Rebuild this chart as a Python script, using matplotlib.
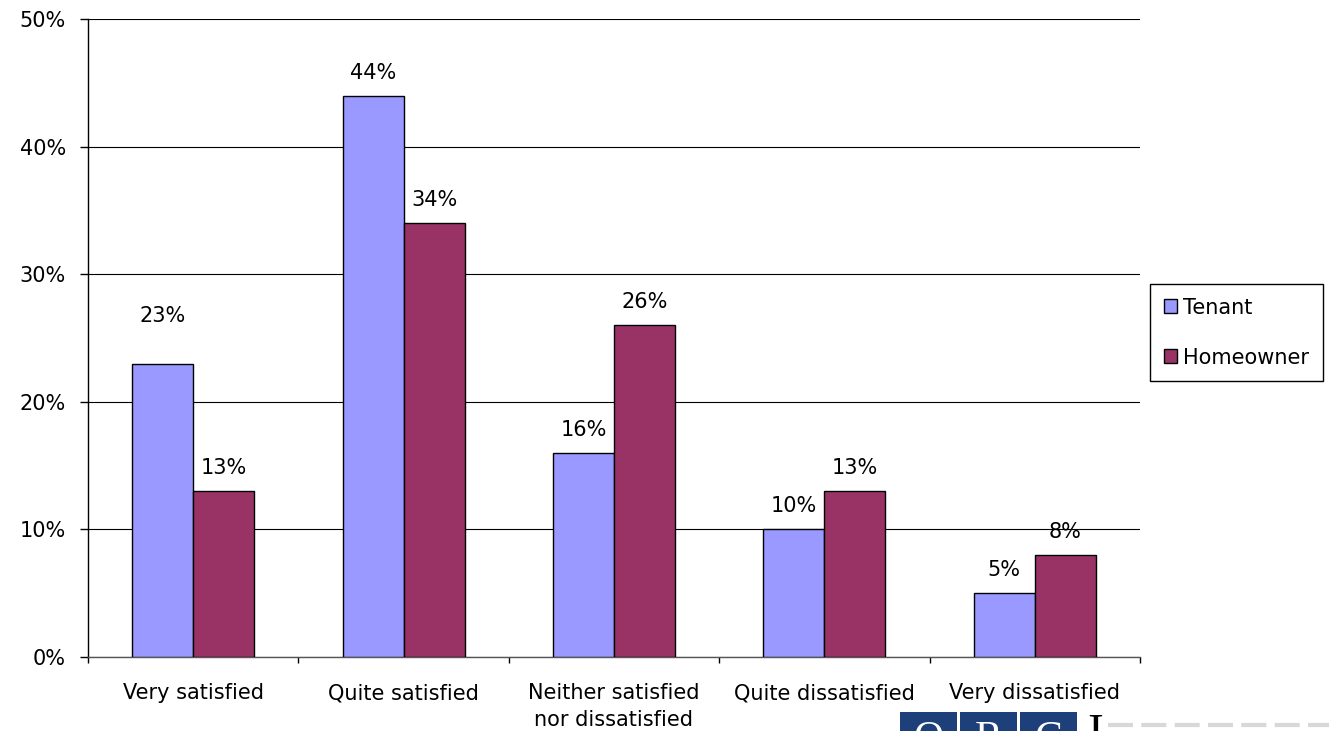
import matplotlib
matplotlib.use("Agg")
import matplotlib.pyplot as plt
import numpy as np
from matplotlib.patches import Rectangle
from matplotlib.ticker import FixedLocator, PercentFormatter
from matplotlib.lines import Line2D

plt.rcParams['font.family'] = ['DejaVu Sans']

categories = ["Very satisfied", "Quite satisfied", "Neither satisfied\nnor dissatisfied",
              "Quite dissatisfied", "Very dissatisfied"]
tenant = [23, 44, 16, 10, 5]
homeowner = [13, 34, 26, 13, 8]
series_names = ["Tenant", "Homeowner"]

tenant_color = "#9999FF"
home_color = "#993366"
FS = 15

W, H = 1329, 731
fig = plt.figure(figsize=(W / 100, H / 100), dpi=100)
ax = fig.add_axes([88 / W, 1 - 657 / H, (1140 - 88) / W, (657 - 19) / H])

x = np.arange(len(categories))
bw = 0.29
b1 = ax.bar(x - bw / 2, tenant, bw, color=tenant_color, edgecolor="black", linewidth=1.0, zorder=3)
b2 = ax.bar(x + bw / 2, homeowner, bw, color=home_color, edgecolor="black", linewidth=1.0, zorder=3)

ax.set_xlim(-0.5, len(categories) - 0.5)
ax.set_ylim(0, 50)
ax.yaxis.set_major_locator(FixedLocator([0, 10, 20, 30, 40, 50]))
ax.yaxis.set_major_formatter(PercentFormatter(decimals=0))
ax.grid(axis="y", color="black", linewidth=0.8, zorder=0)
ax.set_axisbelow(True)

for s in ["top", "right"]:
    ax.spines[s].set_visible(False)
ax.spines["left"].set_linewidth(1.0)
ax.spines["bottom"].set_color("#555555")
ax.spines["bottom"].set_linewidth(1.0)

# category labels at centres, tick marks at group boundaries
ax.set_xticks(x)
ax.set_xticklabels(categories, fontsize=FS, linespacing=1.4)
ax.tick_params(axis="x", which="major", length=0, pad=19)
ax.xaxis.set_minor_locator(FixedLocator(np.arange(-0.5, len(categories), 1.0)))
ax.tick_params(axis="x", which="minor", length=4.5, width=1.0, color="black")
ax.tick_params(axis="y", labelsize=FS, length=6, width=1.0, pad=10)

# value labels
def annotate(bars, vals, offsets):
    for b, v, off in zip(bars, vals, offsets):
        ax.annotate(f"{v}%", (b.get_x() + b.get_width() / 2, v),
                    xytext=(0, off), textcoords="offset points",
                    ha="center", va="center", fontsize=FS)

annotate(b1, tenant, [34, 16.5, 16.5, 16.5, 16.5])
annotate(b2, homeowner, [16.5] * 5)

# legend
handles = [Rectangle((0, 0), 1, 1, facecolor=tenant_color, edgecolor="black", linewidth=1.0),
           Rectangle((0, 0), 1, 1, facecolor=home_color, edgecolor="black", linewidth=1.0)]
leg = fig.legend(handles, series_names, loc="upper left",
                 bbox_to_anchor=(1150 / W, 1 - 284 / H), fontsize=FS,
                 frameon=True, fancybox=False, edgecolor="black", framealpha=1,
                 handlelength=0.65, handleheight=0.65, handletextpad=0.3,
                 labelspacing=1.45, borderpad=0.65, borderaxespad=0)
leg.get_frame().set_linewidth(1.0)

# partial logo at the bottom edge
logo_blue = "#1d3f7a"
for i, (x0, letter) in enumerate(zip([900, 960, 1020], ["O", "R", "C"])):
    fig.patches.append(Rectangle((x0 / W, 0), 57 / W, (731 - 712) / H,
                                 transform=fig.transFigure, facecolor=logo_blue,
                                 edgecolor="none"))
    fig.text((x0 + 28.5) / W, 1 - 720 / H, letter, ha="center", va="top",
             fontsize=30, color="white", family="Liberation Serif")
fig.text(1087 / W, 1 - 713 / H, "I", ha="left", va="top", fontsize=34,
         color="black", family="Liberation Serif")
fig.add_artist(Line2D([1108 / W, 1329 / W], [1 - 725 / H, 1 - 725 / H],
                      transform=fig.transFigure, color="#d8d8d8", linewidth=3,
                      linestyle=(0, (6, 2))))

fig.savefig("out.png", dpi=100)
